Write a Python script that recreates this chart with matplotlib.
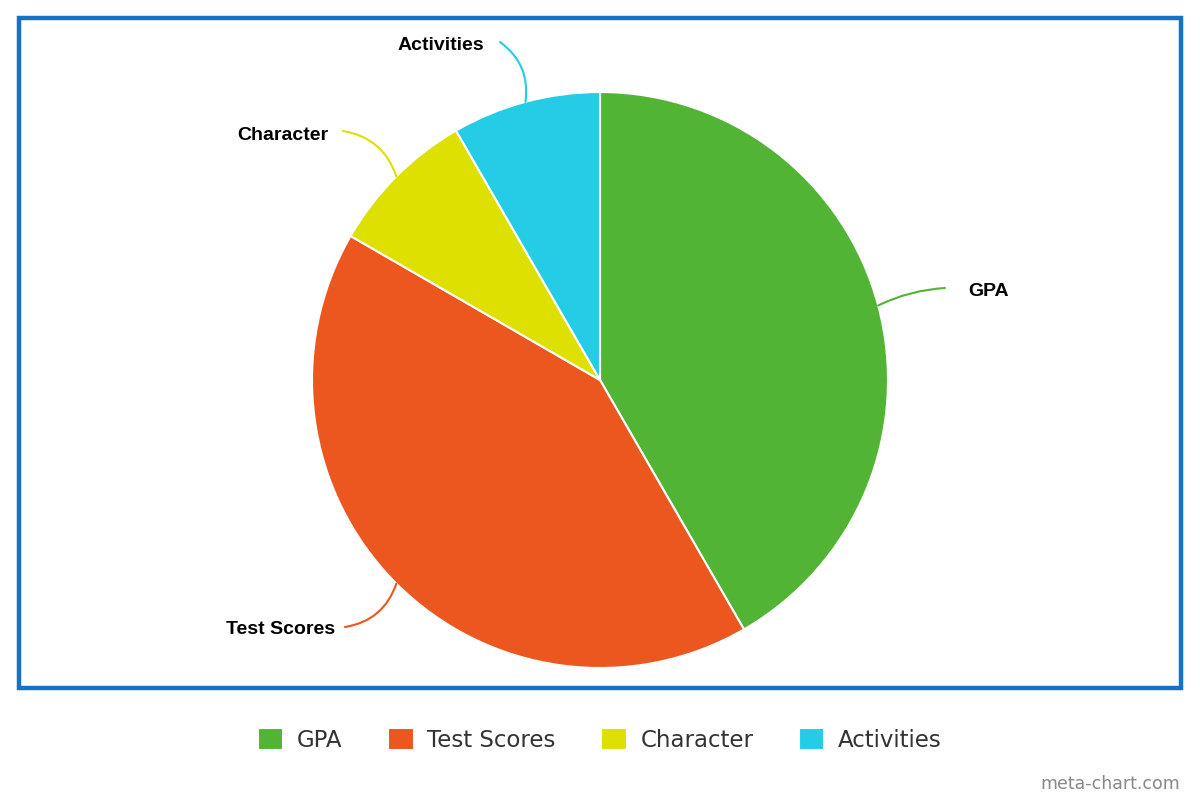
import numpy as np
import matplotlib.pyplot as plt
from matplotlib.patches import Rectangle

labels = ['GPA', 'Test Scores', 'Character', 'Activities']
values = [5, 5, 1, 1]
colors = ['#52b435', '#ec561f', '#dde000', '#24cce6']

# label placement (pixel coords, y up) and curve bend for each leader line
label_pos = [(968, 508), (335, 171), (328, 665), (484, 755)]
label_ha = ['left', 'right', 'right', 'right']
line_end = [(945, 512), (345, 173), (343, 669), (500, 758)]
line_rad = [0.1, 0.3, -0.3, -0.3]

W, H = 1200, 800
cx, cy, r = 600, 420, 288

fig = plt.figure(figsize=(12, 8), dpi=100)
ax = fig.add_axes([0, 0, 1, 1])
ax.set_aspect('equal')

# border round the plot area
ax.add_patch(Rectangle((19, 800 - 688), 1162, 670, fill=False,
                       edgecolor='#1572c4', linewidth=3.2))

wedges, _ = ax.pie(values, colors=colors, startangle=90, counterclock=False,
                   center=(cx, cy), radius=r, frame=True,
                   wedgeprops=dict(edgecolor='white', linewidth=1.5))
ax.set_xlim(0, W)
ax.set_ylim(0, H)
ax.axis('off')

total = sum(values)
start = 0.0
for i, v in enumerate(values):
    mid = np.deg2rad(start + v / total * 360 / 2)
    start += v / total * 360
    px = cx + r * np.sin(mid)
    py = cy + r * np.cos(mid)
    ax.annotate('', xy=(px, py), xytext=line_end[i],
                arrowprops=dict(arrowstyle='-', color=colors[i], lw=1.5,
                                shrinkA=0, shrinkB=0,
                                connectionstyle=f'arc3,rad={line_rad[i]}'))
    ax.text(label_pos[i][0], label_pos[i][1], labels[i], ha=label_ha[i],
            va='center', fontsize=14, fontweight='bold',
            family='Liberation Sans', color='black')

fig.legend(wedges, labels, loc='center', bbox_to_anchor=(0.5, 1 - 740 / 800),
           ncol=4, frameon=False, handlelength=1.1, handleheight=1.1,
           handletextpad=0.6, columnspacing=2.0,
           prop=dict(family='DejaVu Sans', size=16.5), labelcolor='#333333')

fig.text(1180 / W, 1 - 784 / H, 'meta-chart.com', ha='right', va='center',
         fontsize=12.5, color='#888888', family='DejaVu Sans')

fig.savefig('out.png', dpi=100)
